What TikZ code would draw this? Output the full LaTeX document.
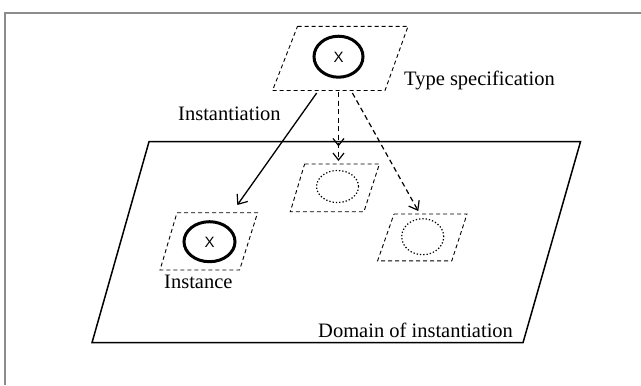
\documentclass[tikz,border=0pt]{standalone}
\usepackage{fontspec}
\setmainfont{Liberation Serif}
\newfontfamily\xsans{Liberation Sans}
\usetikzlibrary{arrows.meta,shapes.geometric}
\tikzset{
  frameline/.style={draw=black!45, line width=2bp},
  dashbox/.style={draw, line width=0.9bp, dash pattern=on 4bp off 3bp},
  domainbox/.style={draw, line width=1.5bp},
  solidcirc/.style={draw, line width=3bp},
  dotcirc/.style={draw, line width=1.2bp, dash pattern=on 1.3bp off 2bp},
  lbl/.style={inner sep=0, anchor=base west, font=\fontsize{20.5bp}{24bp}\selectfont},
  xlbl/.style={inner sep=0, font=\xsans\fontsize{15bp}{18bp}\selectfont},
  tipV/.style={-{Straight Barb[length=8bp,width=13bp,line width=1.2bp]}},
  inst/.style={draw, line width=1.3bp, tipV},
  proj/.style={draw, line width=1.2bp, dash pattern=on 5bp off 3.5bp},
}
\begin{document}
\begin{tikzpicture}[x=1bp,y=-1bp]
\useasboundingbox (0,0) rectangle (641,385);
% frame
\draw[frameline] (5,385) -- (5,12.5) -- (641,12.5);
% domain of instantiation
\draw[domainbox] (149,141.7) -- (580.5,141.7) -- (523,342.7) -- (92,342.7) -- cycle;
% type specification
\draw[dashbox] (297.5,26.3) -- (408,26.3) -- (385,90.5) -- (272.5,90.5) -- cycle;
\node[solidcirc, ellipse, minimum width=49bp, minimum height=41bp, inner sep=0] (tc) at (338.5,56.7) {};
\node[xlbl] (tx) at (338.5,57) {X};
% instance
\draw[dashbox] (177,212.7) -- (257.6,212.7) -- (239.6,270) -- (160,270) -- cycle;
\node[solidcirc, ellipse, minimum width=51bp, minimum height=40bp, inner sep=0] (ic) at (209.5,241.7) {};
\node[xlbl] (ix) at (209.5,242) {X};
% middle potential instance
\draw[dashbox] (304.6,164) -- (379.4,164) -- (363.9,211.7) -- (290.3,211.7) -- cycle;
\node[dotcirc, ellipse, minimum width=42bp, minimum height=32bp, inner sep=0] (mc) at (337.5,186.5) {};
% right potential instance
\draw[dashbox] (394,214) -- (467,214) -- (451.8,260.8) -- (377.6,260.8) -- cycle;
\node[dotcirc, ellipse, minimum width=42bp, minimum height=36bp, inner sep=0] (rc) at (422.7,236.7) {};
% connector endpoints
\coordinate (s1) at (316.7,93);
\coordinate (e1) at (237.3,205);
\coordinate (s2) at (338.5,92);
\coordinate (e2) at (338.5,161);
\coordinate (s3) at (352.4,93);
\coordinate (e3) at (418.3,211);
\draw[inst] (s1) -- (e1);
\draw[proj, -{Straight Barb[length=7bp,width=11bp,line width=1.2bp,sep=6bp]Straight Barb[length=7bp,width=11bp,line width=1.2bp]}] (s2) -- (e2);
\draw[proj, -{Straight Barb[length=8bp,width=12bp,line width=1.2bp]}] (s3) -- (e3);
% labels
\node[lbl] (lt) at (404,85) {Type specification};
\node[lbl] (li) at (178,120.5) {Instantiation};
\node[lbl] (ln) at (164,288.5) {Instance};
\node[lbl] (ld) at (318,337) {Domain of instantiation};
\end{tikzpicture}
\end{document}
